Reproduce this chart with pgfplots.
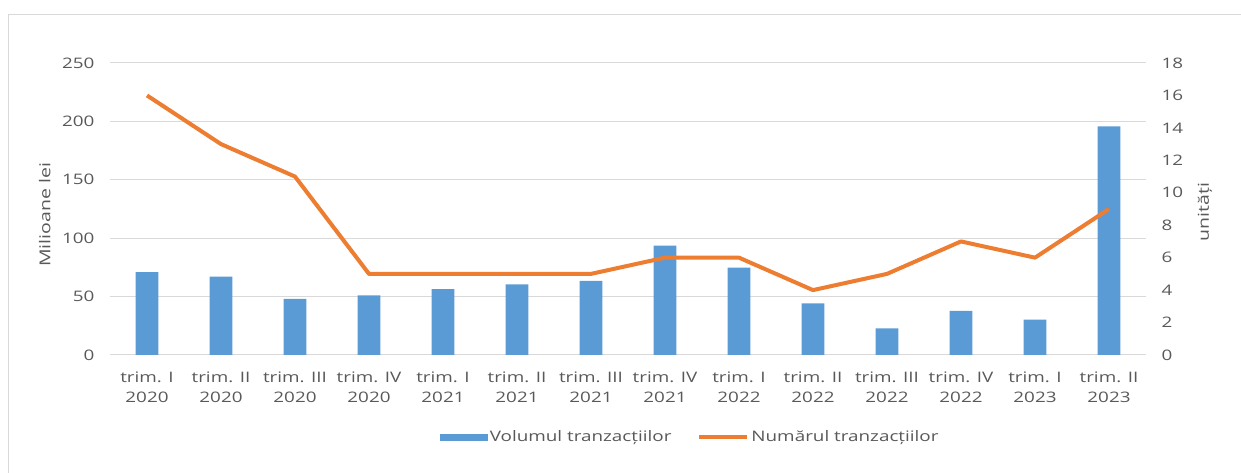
\documentclass[border=0pt]{standalone}
\usepackage{pgfplots}
\pgfplotsset{compat=1.18}
\usepackage{fontspec}
\setmainfont{Open Sans}[FakeStretch=1.3]
\definecolor{barblue}{HTML}{5B9BD5}
\definecolor{lineor}{HTML}{ED7D31}
\definecolor{txtgray}{HTML}{595959}
\definecolor{gridgray}{HTML}{D9D9D9}
\begin{document}
\begin{tikzpicture}[x=1pt,y=1pt]
\path[use as bounding box] (0,0) rectangle (1241,473);
\draw[gridgray, line width=1pt] (8.5,0) -- (8.5,458.5) -- (1241,458.5);
\begin{axis}[
  at={(110pt,118pt)}, anchor=south west,
  scale only axis, width=1036pt, height=292pt,
  xmin=-0.5, xmax=13.5, ymin=0, ymax=250,
  axis line style={draw=none},
  ytick={0,50,...,250},
  xtick={0,...,13},
  xticklabels={trim. I\\2020,trim. II\\2020,trim. III\\2020,trim. IV\\2020,trim. I\\2021,trim. II\\2021,trim. III\\2021,trim. IV\\2021,trim. I\\2022,trim. II\\2022,trim. III\\2022,trim. IV\\2022,trim. I\\2023,trim. II\\2023},
  xticklabel style={align=center, font=\fontsize{14.5}{20}\selectfont, text=txtgray, yshift=-13pt},
  yticklabel style={font=\fontsize{14.5}{15}\selectfont, text=txtgray, xshift=-12pt},
  /pgf/number format/assume math mode=true,
  major tick length=0pt,
  ymajorgrids, grid style={gridgray, line width=1pt},
  ylabel={Milioane lei}, ylabel style={font=\fontsize{15}{15}\selectfont, text=txtgray, at={(axis description cs:-0.063,0.48)}, anchor=center},
  legend style={at={(axis description cs:0.56,-0.281)}, anchor=center, draw=none, legend columns=2, font=\fontsize{14.5}{15}\selectfont, text=txtgray, /tikz/every even column/.append style={column sep=24pt}},
  legend cell align=left,
]
\addplot[ybar, bar width=22.7pt, fill=barblue, draw=none,
  legend image code/.code={\fill[barblue] (0pt,-3.5pt) rectangle (48pt,3.5pt);}]
  coordinates {(0,71) (1,67) (2,48) (3,51) (4,56.5) (5,60.5) (6,63.4) (7,93.6) (8,74.8) (9,44.2) (10,22.8) (11,37.7) (12,30.3) (13,195.8)};
\addlegendentry{Volumul tranzacțiilor}
\addlegendimage{line legend, lineor, line width=4pt, legend image code/.code={\draw[lineor, line width=4pt] (0pt,0pt) -- (48pt,0pt);}}
\addlegendentry{Numărul tranzacțiilor}
\end{axis}
\begin{axis}[
  at={(110pt,118pt)}, anchor=south west,
  scale only axis, width=1036pt, height=292pt,
  xmin=-0.5, xmax=13.5, ymin=0, ymax=18,
  axis line style={draw=none},
  axis y line*=right, axis x line=none,
  ytick={0,2,...,18},
  yticklabel style={font=\fontsize{14.5}{15}\selectfont, text=txtgray, xshift=12pt},
  /pgf/number format/assume math mode=true,
  major tick length=0pt,
  ylabel={unități}, ylabel style={font=\fontsize{15}{15}\selectfont, text=txtgray, at={(axis description cs:1.057,0.49)}, anchor=center},
]
\addplot[lineor, line width=4pt, line join=round, mark=none]
  coordinates {(0,16) (1,13) (2,11) (3,5) (4,5) (5,5) (6,5) (7,6) (8,6) (9,4) (10,5) (11,7) (12,6) (13,9)};
\end{axis}
\end{tikzpicture}
\end{document}
